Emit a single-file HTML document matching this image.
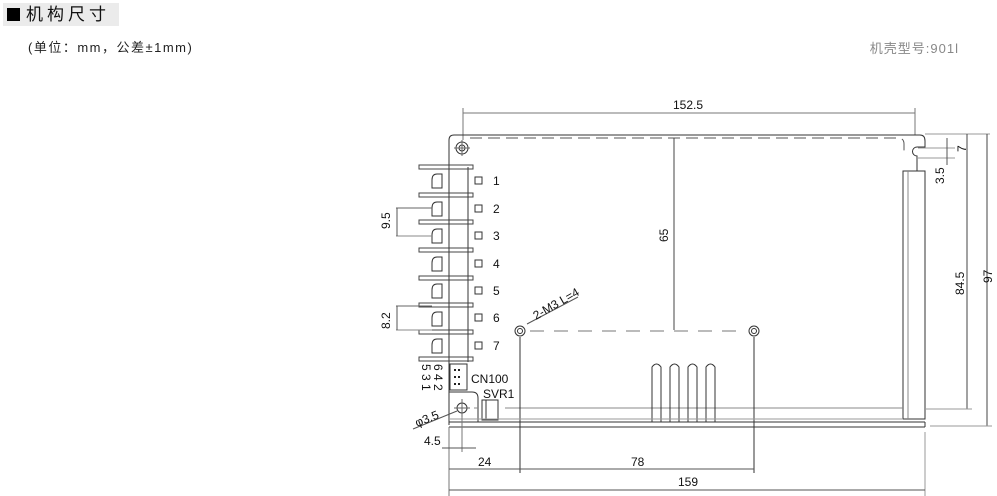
<!DOCTYPE html>
<html><head><meta charset="utf-8"><style>
body{margin:0;width:997px;height:496px;background:#fff;overflow:hidden;position:relative;font-family:"Liberation Sans","Noto Sans CJK SC",sans-serif}
.hd{position:absolute;left:3px;top:3px;width:116px;height:23px;background:#ebebeb;font-size:17px;line-height:23px;color:#111;letter-spacing:4px;white-space:nowrap}
.hd b{display:inline-block;width:13px;height:13px;background:#000;margin:0 6px 0 4px;vertical-align:-1px}
.sub{position:absolute;left:28px;top:37px;font-size:13px;color:#222;letter-spacing:1.5px;white-space:nowrap}
.mod{position:absolute;right:38px;top:38px;font-size:13px;color:#888;letter-spacing:1px;white-space:nowrap}
svg{position:absolute;left:0;top:0}
text{font-family:"Liberation Sans",sans-serif;font-size:12px;fill:#111}
</style></head><body>
<div class="hd"><b></b>机构尺寸</div>
<div class="sub">(单位：mm，公差±1mm)</div>
<div class="mod">机壳型号:901l</div>
<svg width="997" height="496" stroke="#333" fill="none" stroke-width="1">
<line x1="463" y1="113" x2="915" y2="113" stroke="#777"/>
<line x1="463" y1="108" x2="463" y2="140" stroke="#777"/>
<line x1="915" y1="108" x2="915" y2="135" stroke="#777"/>
<text x="673" y="109" stroke="none">152.5</text>
<path d="M449 425 V140 Q449 135 454 135 H920 Q925 135 925 141 V147 H917 A4.5 4.5 0 0 0 917 156 V171"/>
<path d="M470 138 H898 Q904 138 904 144 V155" stroke-dasharray="12 6" stroke="#555"/>
<line x1="449" y1="422" x2="925" y2="422"/>
<line x1="449" y1="427" x2="925" y2="427"/>
<line x1="925" y1="422" x2="925" y2="427"/>
<rect x="903" y="171" width="22" height="248"/>
<line x1="908" y1="171" x2="908" y2="419" stroke="#888"/>
<circle cx="462" cy="148" r="6"/><circle cx="462" cy="148" r="3"/>
<line x1="454" y1="148" x2="470" y2="148" stroke="#666"/><line x1="462" y1="140" x2="462" y2="156" stroke="#666"/>
<g>
<line x1="468" y1="167" x2="468" y2="362"/>
<line x1="449" y1="167" x2="449" y2="362"/>
<g stroke="#444">
<rect x="419" y="165" width="54" height="4"/><rect x="419" y="193" width="54" height="4"/>
<rect x="419" y="220" width="54" height="4"/><rect x="419" y="248" width="54" height="4"/>
<rect x="419" y="276" width="54" height="4"/><rect x="419" y="303" width="54" height="4"/>
<rect x="419" y="330" width="54" height="4"/><rect x="419" y="357" width="54" height="4"/>
</g>
<g>
<path d="M442 174 H437 Q432 174 432 180 V188 H442 Z"/>
<path d="M442 202 H437 Q432 202 432 208 V216 H442 Z"/>
<path d="M442 229 H437 Q432 229 432 235 V243 H442 Z"/>
<path d="M442 257 H437 Q432 257 432 263 V271 H442 Z"/>
<path d="M442 284 H437 Q432 284 432 290 V298 H442 Z"/>
<path d="M442 312 H437 Q432 312 432 318 V326 H442 Z"/>
<path d="M442 339 H437 Q432 339 432 345 V353 H442 Z"/>
</g>
<g>
<rect x="475" y="177" width="7" height="7"/><rect x="475" y="205" width="7" height="7"/>
<rect x="475" y="232" width="7" height="7"/><rect x="475" y="260" width="7" height="7"/>
<rect x="475" y="287" width="7" height="7"/><rect x="475" y="314" width="7" height="7"/>
<rect x="475" y="342" width="7" height="7"/>
</g>
<g stroke="none"><text x="493" y="185">1</text><text x="493" y="213">2</text><text x="493" y="240">3</text><text x="493" y="268">4</text><text x="493" y="295">5</text><text x="493" y="322">6</text><text x="493" y="350">7</text></g>
</g>
<line x1="396" y1="208" x2="432" y2="208" stroke="#666"/><line x1="396" y1="236" x2="432" y2="236" stroke="#888"/>
<line x1="397" y1="208" x2="397" y2="236" stroke="#555"/>
<text transform="translate(390 229) rotate(-90)" stroke="none">9.5</text>
<line x1="396" y1="306" x2="432" y2="306" stroke="#666"/><line x1="396" y1="330" x2="432" y2="330" stroke="#888"/>
<line x1="397" y1="306" x2="397" y2="330" stroke="#555"/>
<text transform="translate(390 329) rotate(-90)" stroke="none">8.2</text>
<rect x="450" y="364" width="17" height="26"/>
<g fill="#222" stroke="none"><rect x="454" y="369" width="2" height="2"/><rect x="458" y="369" width="2" height="2"/><rect x="454" y="376" width="2" height="2"/><rect x="458" y="376" width="2" height="2"/><rect x="454" y="383" width="2" height="2"/><rect x="458" y="383" width="2" height="2"/></g>
<text x="471" y="383" stroke="none">CN100</text>
<text transform="translate(434 364) rotate(90)" stroke="none">6 4 2</text>
<text transform="translate(422 364) rotate(90)" stroke="none">5 3 1</text>
<path d="M449 392 H472 Q478 392 478 398 V422"/>
<circle cx="462" cy="408" r="5"/>
<line x1="454" y1="408" x2="470" y2="408" stroke="#666"/><line x1="462" y1="399" x2="462" y2="417" stroke="#666"/>
<line x1="413" y1="429" x2="457" y2="411" stroke="#555"/>
<text transform="translate(417 427) rotate(-22)" stroke="none">φ3.5</text>
<text x="483" y="398" stroke="none">SVR1</text>
<rect x="482" y="400" width="16" height="20"/><line x1="486" y1="400" x2="486" y2="420"/>
<line x1="505" y1="408" x2="903" y2="408" stroke="#888"/>
<line x1="474" y1="408" x2="478" y2="408" stroke="#888"/>
<circle cx="520" cy="331" r="5"/><circle cx="520" cy="331" r="2.5"/>
<circle cx="754" cy="331" r="5"/><circle cx="754" cy="331" r="2.5"/>
<line x1="530" y1="331" x2="745" y2="331" stroke="#777" stroke-dasharray="14 10"/>
<line x1="520" y1="337" x2="520" y2="473"/>
<line x1="754" y1="337" x2="754" y2="473"/>
<line x1="527" y1="324" x2="578" y2="297" stroke="#555"/>
<text transform="translate(536 320) rotate(-30)" stroke="none">2-M3 L=4</text>
<line x1="674" y1="138" x2="674" y2="330" stroke="#444"/>
<text transform="translate(668 242) rotate(-90)" stroke="none">65</text>
<path d="M652 422 V367 Q656.5 361 661 367 V422"/>
<path d="M670 422 V367 Q674.5 361 679 367 V422"/>
<path d="M688 422 V367 Q692.5 361 697 367 V422"/>
<path d="M706 422 V367 Q710.5 361 715 367 V422"/>
<line x1="449" y1="419" x2="903" y2="419" stroke="#999"/>
<line x1="925" y1="134" x2="990" y2="134" stroke="#999"/>
<line x1="918" y1="148" x2="955" y2="148" stroke="#999"/>
<line x1="918" y1="158" x2="955" y2="158" stroke="#999"/>
<line x1="947" y1="138" x2="947" y2="165" stroke="#555"/>
<text transform="translate(966 152) rotate(-90)" stroke="none">7</text>
<text transform="translate(944 184) rotate(-90)" stroke="none">3.5</text>
<line x1="967" y1="134" x2="967" y2="409" stroke="#444"/>
<line x1="925" y1="409" x2="972" y2="409" stroke="#999"/>
<text transform="translate(964 295) rotate(-90)" stroke="none">84.5</text>
<line x1="987" y1="134" x2="987" y2="426" stroke="#444"/>
<line x1="930" y1="426" x2="992" y2="426" stroke="#999"/>
<text transform="translate(992 283) rotate(-90)" stroke="none">97</text>
<line x1="449" y1="427" x2="449" y2="496" stroke="#777"/>
<line x1="925" y1="432" x2="925" y2="496" stroke="#999"/>
<line x1="462" y1="417" x2="462" y2="452" stroke="#777"/>
<line x1="442" y1="448" x2="476" y2="448" stroke="#555"/>
<text x="424" y="445" stroke="none">4.5</text>
<line x1="449" y1="469" x2="754" y2="469" stroke="#555"/>
<text x="478" y="466" stroke="none">24</text>
<text x="631" y="466" stroke="none">78</text>
<line x1="449" y1="490" x2="925" y2="490" stroke="#555"/>
<text x="678" y="486" stroke="none">159</text>
</svg>
</body></html>
